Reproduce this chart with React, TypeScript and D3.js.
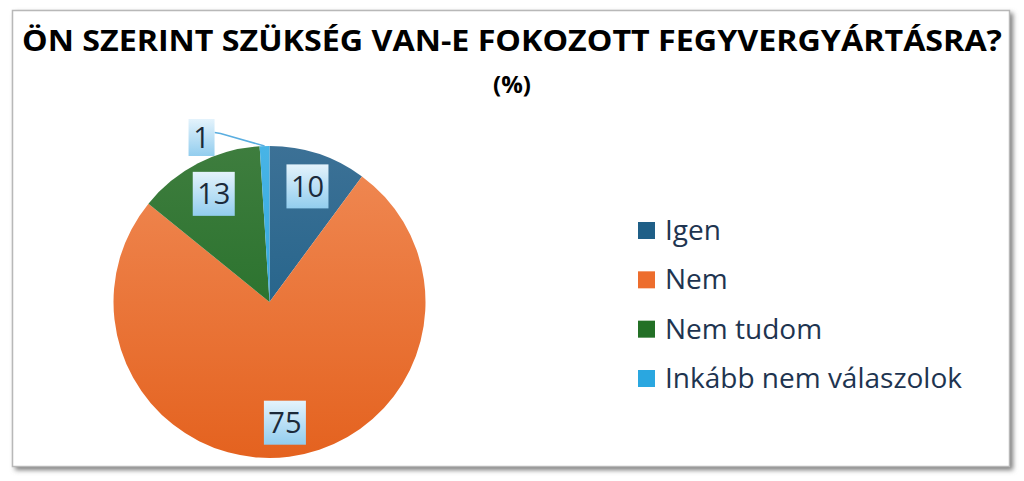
import React, { useRef, useEffect } from "react";
import * as d3 from "d3";

const TITLE = "ÖN SZERINT SZÜKSÉG VAN-E FOKOZOTT FEGYVERGYÁRTÁSRA?";
const SUBTITLE = "(%)";
const CATEGORIES = ["Igen", "Nem", "Nem tudom", "Inkább nem válaszolok"];
const VALUES = [10, 75, 13, 1];
const COLORS_TOP = ["#3c7196", "#f08a55", "#3e7d3e", "#48b4e6"];
const COLORS_BOTTOM = ["#145a82", "#e4621f", "#1b6a20", "#229ed8"];
const LEGEND_COLORS = ["#1f5f87", "#ed6d2d", "#237026", "#2aa7e0"];

const W = 1024;
const H = 481;

const App: React.FC = () => {
  const svgRef = useRef<SVGSVGElement | null>(null);

  useEffect(() => {
    if (!svgRef.current) return;
    const svg = d3.select(svgRef.current);
    svg.selectAll("*").remove();
    const font = "'Open Sans', 'DejaVu Sans', sans-serif";

    const cx = 269.5, cy = 302, R = 156;

    const defs = svg.append("defs");
    defs.append("filter").attr("id", "shadow")
      .attr("x", "-5%").attr("y", "-5%").attr("width", "110%").attr("height", "110%")
      .append("feGaussianBlur").attr("stdDeviation", 2.5);

    // slice gradients, in the pie group's own coordinates
    VALUES.forEach((_, i) => {
      const gr = defs.append("linearGradient").attr("id", `sl-${i}`)
        .attr("gradientUnits", "userSpaceOnUse")
        .attr("x1", 0).attr("y1", -R).attr("x2", 0).attr("y2", R);
      gr.append("stop").attr("offset", "0%").attr("stop-color", COLORS_TOP[i]);
      gr.append("stop").attr("offset", "100%").attr("stop-color", COLORS_BOTTOM[i]);
    });
    const lg = defs.append("linearGradient").attr("id", "lbl").attr("x1", 0).attr("y1", 0).attr("x2", 0).attr("y2", 1);
    lg.append("stop").attr("offset", "0%").attr("stop-color", "#e4f3fc");
    lg.append("stop").attr("offset", "100%").attr("stop-color", "#92cdee");

    /* frame */
    svg.append("rect").attr("x", 15).attr("y", 13).attr("width", 998).attr("height", 457)
      .attr("fill", "#7a7a7a").attr("filter", "url(#shadow)");
    svg.append("rect").attr("x", 12.5).attr("y", 10.5).attr("width", 997).attr("height", 456)
      .attr("fill", "#fff").attr("stroke", "#b8b8b8").attr("stroke-width", 1.5);

    /* titles */
    svg.append("text").attr("x", 512).attr("y", 51).attr("text-anchor", "middle")
      .attr("font-family", font).attr("font-weight", 700).attr("font-size", 28)
      .attr("textLength", 980).attr("lengthAdjust", "spacingAndGlyphs")
      .attr("fill", "#000").text(TITLE);
    svg.append("text").attr("x", 512).attr("y", 93).attr("text-anchor", "middle")
      .attr("font-family", font).attr("font-weight", 700).attr("font-size", 24)
      .attr("fill", "#000").text(SUBTITLE);

    /* pie */
    const pie = d3.pie<number>().sort(null).value((d) => d);
    const arcs = pie(VALUES);
    const arc = d3.arc<d3.PieArcDatum<number>>().innerRadius(0).outerRadius(R);
    const labelArc = d3.arc<d3.PieArcDatum<number>>().innerRadius(R * 0.78).outerRadius(R * 0.78);

    const g = svg.append("g").attr("transform", `translate(${cx},${cy})`);
    g.selectAll("path").data(arcs).join("path")
      .attr("d", (d) => arc(d))
      .attr("fill", (_, i) => `url(#sl-${i})`);

    /* data labels */
    const labels = g.append("g").attr("font-family", font).attr("font-size", 29);
    arcs.forEach((a) => {
      const txt = String(a.data);
      const small = a.data < 3;
      const mid = (a.startAngle + a.endAngle) / 2;
      let lx: number, ly: number;
      if (small) {
        const ang = mid - 0.36;
        lx = Math.sin(ang) * (R + 22);
        ly = -Math.cos(ang) * (R + 22);
      } else {
        [lx, ly] = labelArc.centroid(a);
      }
      const bw = txt.length === 1 ? 26 : 42;
      const bh = small ? 37 : 44;
      if (small) {
        const ex = Math.sin(mid) * R;
        const ey = -Math.cos(mid) * R;
        labels.append("polyline")
          .attr("points", `${lx + bw / 2},${ly - 5} ${lx + bw / 2 + 6},${ly - 4} ${ex},${ey}`)
          .attr("fill", "none").attr("stroke", "#5aaee0").attr("stroke-width", 1.5);
      }
      labels.append("rect").attr("x", lx - bw / 2).attr("y", ly - bh / 2)
        .attr("width", bw).attr("height", bh).attr("fill", "url(#lbl)");
      labels.append("text").attr("x", lx).attr("y", ly + 10.5).attr("text-anchor", "middle")
        .attr("fill", "#1b2a3a").text(txt);
    });

    /* legend */
    const ys = d3.scalePoint<string>().domain(CATEGORIES).range([230, 378]);
    const leg = svg.append("g").attr("font-family", font).attr("font-size", 28);
    CATEGORIES.forEach((c, i) => {
      const y = ys(c)!;
      leg.append("rect").attr("x", 638).attr("y", y - 8).attr("width", 17).attr("height", 17)
        .attr("fill", LEGEND_COLORS[i]);
      leg.append("text").attr("x", 665).attr("y", y + 10).attr("fill", "#1e3450").text(c);
    });
  }, []);

  return (
    <svg
      ref={svgRef}
      width={W}
      height={H}
      viewBox={`0 0 ${W} ${H}`}
      style={{ position: "absolute", left: 0, top: 0, display: "block", background: "#fff" }}
    />
  );
};

export default App;
